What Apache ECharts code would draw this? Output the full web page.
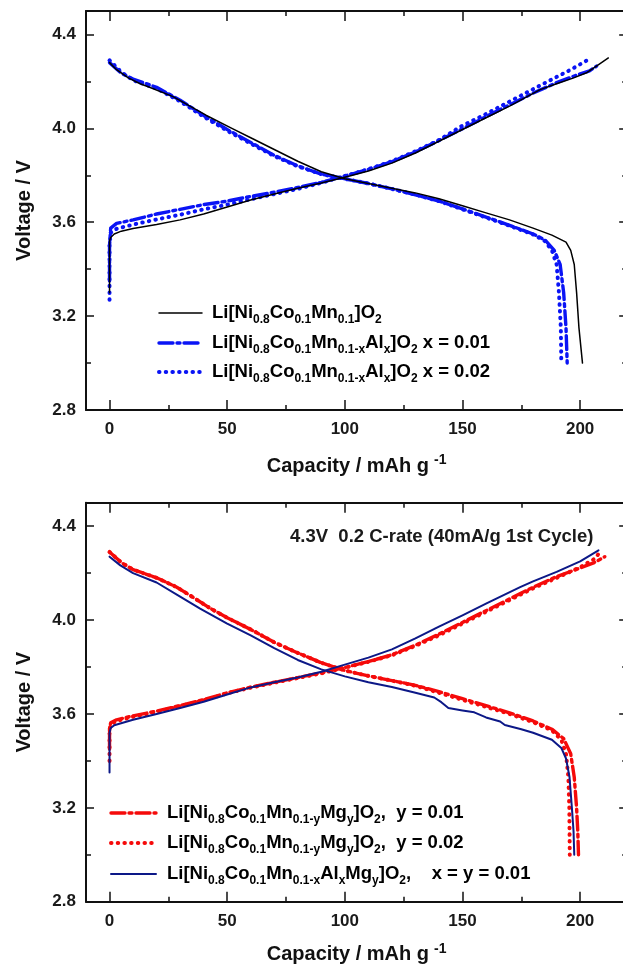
<!DOCTYPE html>
<html>
<head>
<meta charset="utf-8">
<script src="https://cdn.jsdelivr.net/npm/echarts@6/dist/echarts.min.js"></script>
<style>
html,body{margin:0;padding:0;background:#fff;overflow:hidden;}
#c{width:640px;height:967px;}
</style>
</head>
<body>
<div id="c"></div>
<script>
// ---------- tick values ----------
const capMajorTicks = [0, 50, 100, 150, 200];
const capMinorTicks = [25, 75, 125, 175];
const voltMin = 2.8, voltMax = 4.5, voltStep = 0.4;
const capMin = -10, capMax = 220;

// ---------- top panel: [capacity mAh/g, voltage V] ----------
const ncm_charge = [[0,3.30],[0,3.52],[0.5,3.535],[2,3.55],[5,3.562],[10,3.573],[20,3.59],[30,3.61],[40,3.635],[50,3.665],[60,3.695],[70,3.72],[80,3.745],[90,3.767],[100,3.792],[110,3.818],[120,3.852],[130,3.895],[140,3.945],[150,3.995],[160,4.045],[170,4.095],[183,4.165],[190,4.19],[197,4.214],[203,4.238],[207.7,4.27],[212,4.30]];
const ncm_discharge = [[0,4.28],[3,4.25],[8,4.215],[13,4.19],[17,4.175],[27,4.135],[41,4.056],[52,4.0],[60,3.96],[70,3.91],[80,3.86],[90,3.815],[100,3.785],[110,3.765],[120,3.745],[130,3.725],[140,3.70],[150,3.67],[160,3.64],[170,3.61],[180,3.575],[188,3.545],[194,3.515],[196,3.48],[197.5,3.42],[198.5,3.3],[199.5,3.15],[200.5,3.05],[201,3.0]];
const al01_charge = [[0,3.35],[0,3.50],[0.5,3.575],[3,3.595],[10,3.61],[20,3.635],[30,3.655],[40,3.675],[50,3.69],[60,3.71],[70,3.728],[80,3.748],[90,3.77],[100,3.797],[110,3.825],[120,3.858],[130,3.9],[140,3.948],[150,3.998],[160,4.05],[170,4.1],[180,4.15],[190,4.195],[198,4.225],[204,4.245],[207,4.265]];
const al01_discharge = [[0,4.28],[5,4.235],[10,4.21],[20,4.175],[30,4.12],[40,4.055],[50,3.995],[60,3.94],[70,3.885],[80,3.84],[90,3.805],[100,3.785],[110,3.765],[120,3.742],[130,3.717],[140,3.69],[150,3.657],[160,3.622],[170,3.587],[180,3.55],[185,3.525],[189,3.48],[191.5,3.42],[193,3.3],[194,3.15],[194.5,3.0]];
const al02_charge = [[0,3.27],[0,3.50],[0.5,3.555],[3,3.572],[10,3.59],[20,3.612],[30,3.632],[40,3.655],[50,3.675],[60,3.698],[70,3.72],[80,3.742],[90,3.768],[100,3.797],[110,3.826],[120,3.86],[130,3.902],[140,3.95],[149,4.006],[159,4.056],[173,4.13],[184.4,4.19],[196,4.25],[203,4.29]];
const al02_discharge = [[0,4.29],[5,4.24],[10,4.205],[20,4.17],[30,4.115],[40,4.05],[50,3.99],[60,3.935],[70,3.882],[80,3.838],[90,3.805],[100,3.785],[110,3.765],[120,3.742],[130,3.717],[140,3.69],[150,3.655],[160,3.62],[170,3.585],[180,3.548],[185,3.52],[188,3.48],[190,3.42],[191,3.3],[191.8,3.15],[192,3.0]];

// ---------- bottom panel ----------
const mg01_charge = [[0,3.45],[0,3.54],[0.5,3.562],[3,3.575],[10,3.592],[20,3.612],[30,3.636],[40,3.661],[50,3.69],[60,3.714],[70,3.735],[80,3.755],[90,3.775],[100,3.798],[110,3.823],[120,3.852],[130,3.893],[140,3.94],[150,3.99],[160,4.04],[170,4.09],[180,4.14],[190,4.185],[200,4.222],[206,4.245],[210.5,4.27]];
const mg01_discharge = [[0,4.29],[5,4.245],[10,4.215],[20,4.18],[28.6,4.14],[35,4.1],[42.8,4.05],[50,4.01],[60,3.96],[70,3.905],[80,3.86],[90,3.818],[100,3.785],[110,3.762],[120,3.742],[130,3.722],[140,3.695],[150,3.665],[160,3.635],[170,3.605],[180,3.57],[188,3.535],[193,3.495],[196,3.43],[197.5,3.33],[198.5,3.2],[199,3.1],[199.3,3.0]];
const mg02_charge = [[0,3.40],[0,3.53],[0.5,3.555],[3,3.57],[10,3.588],[20,3.608],[30,3.633],[40,3.658],[50,3.688],[60,3.712],[70,3.733],[80,3.753],[90,3.773],[100,3.797],[110,3.822],[120,3.85],[130,3.89],[140,3.935],[150,3.985],[160,4.035],[170,4.085],[180,4.135],[190,4.18],[200,4.225],[206,4.26],[208.5,4.29]];
const mg02_discharge = [[0,4.29],[5,4.245],[10,4.215],[20,4.18],[28.6,4.14],[35,4.1],[42.8,4.05],[50,4.01],[60,3.96],[70,3.905],[80,3.86],[90,3.818],[100,3.785],[110,3.762],[120,3.742],[130,3.72],[140,3.69],[150,3.66],[160,3.63],[170,3.6],[180,3.565],[188,3.53],[192,3.49],[194,3.43],[195,3.33],[195.4,3.2],[195.6,3.0]];
const almg_charge = [[0,3.35],[0,3.52],[0.5,3.54],[2,3.552],[10,3.575],[20,3.6],[30,3.625],[40,3.652],[50,3.683],[60,3.713],[70,3.735],[80,3.755],[90,3.78],[100,3.81],[110,3.84],[120,3.875],[130,3.922],[140,3.972],[150,4.02],[160,4.07],[174.5,4.14],[180,4.165],[190,4.205],[200,4.25],[207.8,4.297]];
const almg_discharge = [[0,4.27],[4.6,4.233],[10,4.2],[20,4.16],[30,4.1],[38.5,4.049],[50,3.985],[60,3.935],[70,3.88],[80,3.83],[90,3.79],[100,3.76],[110,3.735],[120,3.715],[130,3.69],[138,3.67],[141,3.65],[144,3.625],[150,3.615],[155,3.607],[160,3.585],[166,3.568],[168,3.553],[175,3.535],[180,3.52],[188,3.49],[192,3.455],[194,3.41],[195.5,3.33],[196.5,3.2],[197.2,3.1],[197.5,3.0]];

// ---------- labels ----------
const annotationText = '4.3V  0.2 C-rate (40mA/g 1st Cycle)';
const namesTop = [
  '{m|Li[Ni}{s|0.8}{m|Co}{s|0.1}{m|Mn}{s|0.1}{m|]O}{s|2}',
  '{m|Li[Ni}{s|0.8}{m|Co}{s|0.1}{m|Mn}{s|0.1-x}{m|Al}{s|x}{m|]O}{s|2}{m| x = 0.01}',
  '{m|Li[Ni}{s|0.8}{m|Co}{s|0.1}{m|Mn}{s|0.1-x}{m|Al}{s|x}{m|]O}{s|2}{m| x = 0.02}'
];
const namesBottom = [
  '{m|Li[Ni}{s|0.8}{m|Co}{s|0.1}{m|Mn}{s|0.1-y}{m|Mg}{s|y}{m|]O}{s|2}{m|,  y = 0.01}',
  '{m|Li[Ni}{s|0.8}{m|Co}{s|0.1}{m|Mn}{s|0.1-y}{m|Mg}{s|y}{m|]O}{s|2}{m|,  y = 0.02}',
  '{m|Li[Ni}{s|0.8}{m|Co}{s|0.1}{m|Mn}{s|0.1-x}{m|Al}{s|x}{m|Mg}{s|y}{m|]O}{s|2}{m|,    x = y = 0.01}'
];

const FONT = '"Liberation Sans", Arial, sans-serif';
const richLegend = {
  m: {fontFamily: FONT, fontSize: 18.5, fontWeight: 'bold', color: '#111', lineHeight: 22},
  s: {fontFamily: FONT, fontSize: 12, fontWeight: 'bold', color: '#111', lineHeight: 13, padding: [13, 0, 0, 0]}
};
const richName = {
  a: {fontFamily: FONT, fontSize: 20, fontWeight: 'bold', color: '#111', lineHeight: 24},
  b: {fontFamily: FONT, fontSize: 14, fontWeight: 'bold', color: '#111', lineHeight: 14, padding: [0, 0, 12, 5]}
};

const PX_PER_CAP = 2.353;
const gridW = (capMax - capMin) * PX_PER_CAP;
const gridH = 399;
const grids = [
  {left: 86, top: 11, width: gridW, height: gridH, outerBoundsMode: 'none', containLabel: false},
  {left: 86, top: 502.7, width: gridW, height: gridH, outerBoundsMode: 'none', containLabel: false}
];

function xAxisPair(gi, showLabels, customTicks, tickLen, showLine, nameGap) {
  const base = {
    type: 'value', gridIndex: gi, min: capMin, max: capMax,
    splitLine: {show: false},
    axisLine: {show: showLine, onZero: false, lineStyle: {color: '#111', width: 2}},
    axisTick: {show: true, inside: true, length: tickLen, customValues: customTicks, lineStyle: {color: '#111', width: 1.5}}
  };
  return [
    Object.assign({}, base, {
      position: 'bottom',
      axisLabel: {show: showLabels, customValues: capMajorTicks, margin: 11, fontFamily: FONT, fontSize: 17, fontWeight: 'bold', color: '#1a1a1a'},
      name: showLabels ? '{a|Capacity / mAh g}{b|-1}' : '',
      nameLocation: 'middle', nameGap: nameGap || 40,
      nameTextStyle: {rich: richName}
    }),
    Object.assign({}, base, {position: 'top', axisLabel: {show: false}})
  ];
}
function yAxisPair(gi, showLabels, showLine) {
  const base = {
    type: 'value', gridIndex: gi, min: voltMin, max: voltMax, interval: voltStep,
    splitLine: {show: false},
    axisLine: {show: showLine, onZero: false, lineStyle: {color: '#111', width: 2}},
    axisTick: {show: showLine, inside: true, length: 8, lineStyle: {color: '#111', width: 1.5}},
    minorTick: {show: showLine, splitNumber: 2, length: 5, lineStyle: {color: '#111', width: 1.5}}
  };
  return [
    Object.assign({}, base, {
      position: 'left',
      axisLabel: {show: showLabels, showMaxLabel: false, margin: 10, fontFamily: FONT, fontSize: 17, fontWeight: 'bold', color: '#1a1a1a',
        formatter: v => v.toFixed(1)},
      name: showLabels ? 'Voltage / V' : '', nameLocation: 'middle', nameGap: 52,
      nameTextStyle: {fontFamily: FONT, fontSize: 20, fontWeight: 'bold', color: '#111'}
    }),
    Object.assign({}, base, {position: 'right', axisLabel: {show: false}})
  ];
}

const xAxes = [].concat(
  xAxisPair(0, true, capMajorTicks, 10, true, 44),
  xAxisPair(1, true, capMajorTicks, 10, true, 41),
  xAxisPair(2, false, capMinorTicks, 5, false),
  xAxisPair(3, false, capMinorTicks, 5, false)
);
const yAxes = [].concat(
  yAxisPair(0, true, true), yAxisPair(1, true, true),
  yAxisPair(2, false, false), yAxisPair(3, false, false)
);

const DASHDOT = [14, 4, 3, 4];
const DOTS = [0.5, 6.2];
const BLUE = '#0a14f5', BLACK = '#000000', RED = '#f50a0a', NAVY = '#0c1887';
const styles = {
  ncm:  {color: BLACK, width: 1.5, type: 'solid'},
  al01: {color: BLUE, width: 3.4, type: DASHDOT},
  al02: {color: BLUE, width: 4, type: DOTS},
  mg01: {color: RED, width: 3.4, type: DASHDOT},
  mg02: {color: RED, width: 4, type: DOTS},
  almg: {color: NAVY, width: 2, type: 'solid'}
};
function line(name, data, xi, yi, st, z) {
  return {
    type: 'line', name, data, xAxisIndex: xi, yAxisIndex: yi,
    showSymbol: false, symbol: 'none', smooth: false, z: z, animation: false, silent: true,
    lineStyle: {color: st.color, width: st.width, type: st.type, cap: 'round', join: 'round'},
    itemStyle: {color: st.color}
  };
}

const series = [
  line('al01c', al01_charge, 0, 0, styles.al01, 2),
  line('al01d', al01_discharge, 0, 0, styles.al01, 2),
  line('al02c', al02_charge, 0, 0, styles.al02, 3),
  line('al02d', al02_discharge, 0, 0, styles.al02, 3),
  line('ncmc', ncm_charge, 0, 0, styles.ncm, 4),
  line('ncmd', ncm_discharge, 0, 0, styles.ncm, 4),
  line('mg01c', mg01_charge, 2, 2, styles.mg01, 2),
  line('mg01d', mg01_discharge, 2, 2, styles.mg01, 2),
  line('mg02c', mg02_charge, 2, 2, styles.mg02, 3),
  line('mg02d', mg02_discharge, 2, 2, styles.mg02, 3),
  line('almgc', almg_charge, 2, 2, styles.almg, 4),
  line('almgd', almg_discharge, 2, 2, styles.almg, 4)
];

// legend drawn as graphic samples + rich text
function legendItems(names, keys, x0, x1, tx, ys) {
  const out = [];
  names.forEach((n, i) => {
    const st = styles[keys[i]];
    out.push({
      type: 'line', shape: {x1: x0, y1: ys[i], x2: x1, y2: ys[i]}, silent: true,
      style: {stroke: st.color, lineWidth: st.width, lineDash: Array.isArray(st.type) ? st.type : null, lineCap: 'round'}
    });
    out.push({
      type: 'text', x: tx, y: ys[i], silent: true,
      style: {text: n, rich: richLegend, verticalAlign: 'middle', align: 'left'}
    });
  });
  return out;
}

const chart = echarts.init(document.getElementById('c'), null, {renderer: 'canvas'});
chart.setOption({
  animation: false,
  backgroundColor: '#ffffff',
  grid: grids.concat(grids.map(g => Object.assign({}, g))),
  xAxis: xAxes,
  yAxis: yAxes,
  graphic: [].concat(
    legendItems(namesTop, ['ncm', 'al01', 'al02'], 159, 202, 212, [313, 343, 372]),
    legendItems(namesBottom, ['mg01', 'mg02', 'almg'], 111, 156, 167, [813, 843, 874]),
    [{
      type: 'text', x: 290, y: 537, silent: true,
      style: {text: annotationText, fontFamily: FONT, fontSize: 18.5, fontWeight: 'bold', fill: '#1a1a1a', verticalAlign: 'middle'}
    }]
  ),
  series
});
</script>
</body>
</html>
